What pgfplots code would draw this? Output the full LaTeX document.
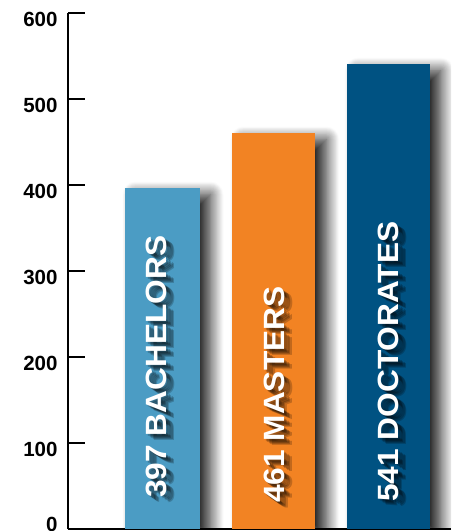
\documentclass[border=0pt]{standalone}
\usepackage{fontspec}
\setmainfont{Liberation Sans}
\usepackage{pgfplots}
\pgfplotsset{compat=1.18}
\usetikzlibrary{shadows.blur}

\definecolor{bach}{HTML}{4B9CC4}
\definecolor{mast}{HTML}{F28323}
\definecolor{doct}{HTML}{005282}

\newcommand{\ticfont}{\fontsize{20.5}{22}\selectfont\bfseries}
\newcommand{\labfont}{\fontsize{29.3}{30}\selectfont\bfseries}

\begin{document}
\begin{tikzpicture}
\begin{axis}[
    name=ax,
    scale only axis,
    width=383pt, height=516pt,
    xmin=-0.832, xmax=2.558,
    ymin=0, ymax=600,
    axis x line*=bottom,
    axis y line*=left,
    axis line style={black, line width=1.3pt},
    xtick=\empty,
    ytick={100,200,...,600},
    extra y ticks={0},
    extra y tick style={yticklabel style={yshift=11pt}},
    tick align=inside,
    major tick length=17pt,
    tick style={black, line width=1.3pt},
    yticklabel style={font=\ticfont, xshift=-7pt, yshift=-6pt},
    /pgf/number format/assume math mode=true,
    ybar, bar shift=0pt,
    clip=true,
    every axis plot/.append style={
        draw=none,
        blur shadow={shadow xshift=11pt, shadow yshift=-7pt,
                     shadow blur radius=13pt, shadow blur steps=14,
                     shadow opacity=90}},
]
\addplot[fill=bach, bar width=75pt] coordinates {(0,397)};
\addplot[fill=mast, bar width=83pt] coordinates {(0.99,461)};
\addplot[fill=doct, bar width=83pt] coordinates {(2.004,541)};
\coordinate (b0) at (axis cs:0,0);
\coordinate (b1) at (axis cs:0.99,0);
\coordinate (b2) at (axis cs:2.004,0);
\end{axis}

% bar labels with a soft shadow
\foreach \pos/\dx/\dy/\txt in {b0/4.5/31/397 BACHELORS, b1/10.5/26/461 MASTERS, b2/10.5/27/541 DOCTORATES}{
  \foreach \sx/\sy in {2/-2, 3.5/-3, 5/-4, 6.5/-5, 8/-6}{
    \node[rotate=90, anchor=base west, inner sep=0pt, text=black, text opacity=0.2]
      at ([xshift=\dx pt+\sx pt, yshift=\dy pt+\sy pt]\pos) {\labfont\scalebox{1.08}[1]{\txt}};
  }
  \node[rotate=90, anchor=base west, inner sep=0pt, text=white]
    at ([xshift=\dx pt, yshift=\dy pt]\pos) {\labfont\scalebox{1.08}[1]{\txt}};
}

\pgfresetboundingbox
\useasboundingbox ([xshift=-68pt, yshift=-2pt]ax.south west) rectangle ([yshift=13pt]ax.north east);
\end{tikzpicture}
\end{document}
